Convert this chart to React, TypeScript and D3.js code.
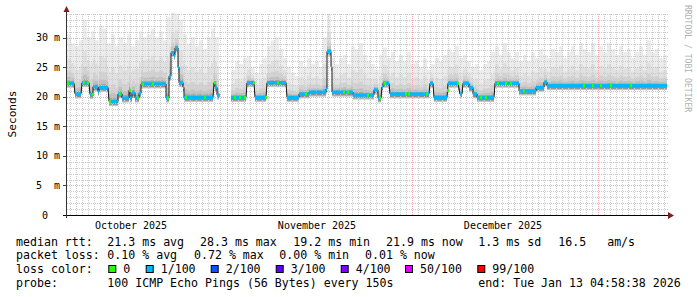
import React from 'react';
import * as d3 from 'd3';

// ---- data (600 columns of 4 h each) ----
// median rtt plateaus: [firstCol, lastCol, ms]
const medianSegments: [number, number, number][] = [
  [0, 6, 22.3], [8, 13, 20.5], [15, 21, 22.4], [23, 25, 20.4], [26, 30, 21.7],
  [31, 31, 20.9], [32, 40, 21.6], [42, 50, 19.2], [51, 54, 20.5], [55, 61, 19.8],
  [62, 62, 21.1], [63, 64, 19.8], [65, 67, 20.7], [68, 71, 19.8], [72, 73, 20.6],
  [74, 98, 22.2], [99, 101, 19.8], [102, 103, 23.5], [104, 106, 27.5], [107, 107, 27.0],
  [108, 110, 28.3], [111, 111, 25.0], [112, 115, 22.4], [116, 116, 21.6], [117, 145, 19.9],
  [147, 147, 22.4], [148, 149, 21.6], [150, 152, 20.3],
  [164, 178, 19.9], [180, 186, 22.4], [188, 198, 19.9], [200, 218, 22.4], [220, 231, 19.9],
  [232, 241, 20.5], [242, 258, 20.8], [259, 259, 21.3], [260, 263, 27.7], [264, 264, 25.1],
  [265, 285, 20.8], [286, 306, 20.3], [307, 310, 21.2], [311, 313, 19.8], [315, 315, 21.7],
  [316, 321, 22.3], [323, 361, 20.5], [363, 365, 22.3], [367, 379, 19.9], [381, 390, 22.3],
  [393, 394, 20.5], [396, 401, 22.3], [402, 405, 21.6], [406, 409, 20.5], [410, 426, 19.9],
  [428, 451, 22.3], [452, 468, 21.0], [469, 476, 21.6], [477, 479, 22.5], [480, 599, 21.9],
];

// columns where loss was 0 (green), elsewhere 1/100
const zeroLossCols = [0, 16, 20, 25, 42, 52, 62, 70, 75, 85, 100, 118, 137, 147, 167, 172, 177,
  186, 198, 210, 238, 276, 280, 300, 312, 317, 338, 341, 359, 380, 390, 413, 418, 430, 438, 443,
  456, 516, 525, 533, 543, 563];

// smoke upper envelope (ms), one value per 4 columns
const smokeMax: (number | null)[] = [
  30.5, 29.0, 28.5, 29.5, 33.0, 30.0, 31.0, 29.5, 32.0, 31.5,
  29.0, 30.5, 28.5, 30.0, 29.0, 30.5, 28.5, 29.5, 31.0, 30.0,
  30.5, 31.5, 30.0, 31.0, 29.5, 33.5, 34.2, 34.0, 33.0, 30.5,
  29.0, 30.0, 28.5, 29.5, 28.0, 30.0, 31.5, 30.0, null, null,
  null, 24.5, 26.0, 25.5, 26.5, 26.8, 25.0, 24.0, 25.5, 26.5,
  28.5, 29.5, 30.0, 28.0, 26.5, 25.0, 24.0, 23.5, 26.0, 25.0,
  26.5, 25.5, 26.0, 25.0, 30.0, 34.0, 26.5, 25.5, 26.5, 27.0,
  25.5, 28.5, 28.0, 29.0, 27.0, 26.0, 25.5, 24.5, 27.0, 28.3,
  26.5, 27.5, 26.0, 27.0, 26.0, 27.5, 25.5, 26.0, 25.0, 26.5,
  24.5, 25.5, 26.5, 26.0, 27.0, 28.0, 27.5, 28.5, 26.5, 27.0,
  26.0, 25.0, 25.5, 24.5, 25.5, 26.0, 27.5, 28.5, 27.0, 29.0,
  27.5, 26.5, 27.5, 26.0, 27.0, 26.0, 27.5, 26.5, 28.0, 27.0,
  26.5, 28.0, 27.5, 28.5, 26.5, 27.5, 28.5, 27.0, 29.0, 28.0,
  27.5, 29.0, 27.0, 28.5, 27.5, 29.0, 28.0, 27.0, 28.5, 27.5,
  28.0, 26.5, 27.5, 28.5, 27.0, 29.5, 27.5, 28.0, 26.5, 27.0,
];

const yTicks = [0, 5, 10, 15, 20, 25, 30];
const yTickLabels = [' 0', '5  m', '10 m', '15 m', '20 m', '25 m', '30 m'];
const monthGridCols = [159.7, 345.3, 531.3];
const monthLabelCols = [64, 250, 436];
const monthLabels = ['October 2025', 'November 2025', 'December 2025'];

const rttLabel = 'median rtt:';
const rttItems = ['21.3 ms avg', '28.3 ms max', '19.2 ms min', '21.9 ms now', '1.3 ms sd', '16.5   am/s'];
const lossLabel = 'packet loss:';
const lossItems = ['0.10 % avg', '0.72 % max', '0.00 % min', '0.01 % now'];
const colorLabel = 'loss color:';
const lossColorNames = ['0', '1/100', '2/100', '3/100', '4/100', '50/100', '99/100'];
const lossColors = ['#26ff00', '#00b8ff', '#0059ff', '#5e00ff', '#7e00ff', '#dd00ff', '#ff0000'];
const probeLabel = 'probe:';
const probeText = '100 ICMP Echo Pings (56 Bytes) every 150s';
const endText = 'end: Tue Jan 13 04:58:38 2026';

// ---- layout ----
const rttX = [107.3, 200, 293.3, 386, 478.3, 558.3];
const lossX = [107.3, 194, 279.3, 365];
const boxX = [108.3, 145.7, 210.7, 275.7, 340.7, 405, 477.3];
const rowY = [245.5, 259.2, 272.9, 286.6];
const MONO = '"DejaVu Sans Mono", monospace';

function medianAt(c: number): number {
  for (let i = 0; i < medianSegments.length; i++) {
    const [a, b, v] = medianSegments[i];
    if (c >= a && c <= b) return v;
    const next = medianSegments[i + 1];
    if (next && c > b && c < next[0]) {
      if (next[0] - b > 4) return NaN;
      const t = (c - b) / (next[0] - b);
      return v + (next[2] - v) * t;
    }
  }
  return NaN;
}

export default function App() {
  const x = d3.scaleLinear().domain([0, 600]).range([67, 667]);
  const y = d3.scaleLinear().domain([0, 34.2]).range([215, 13]);

  // smoke
  const smoke: JSX.Element[] = [];
  const layers: [number, string][] = [
    [1.0, '#ececec'], [0.5, '#e0e0e0'], [0.25, '#d2d2d2'], [0.12, '#bfbfbf'], [0.05, '#a6a6a6'],
  ];
  for (let c = 0; c < 600; c++) {
    const m = medianAt(c);
    const mx = smokeMax[Math.floor(c / 4)];
    if (isNaN(m) || mx == null) continue;
    const ym = y(m);
    const d = ym - y(mx);
    const x0 = x(c);
    const w = x(c + 1) - x0;
    layers.forEach(([f, col], k) => {
      const h = Math.max(d * f, k === layers.length - 1 ? 1.5 : 0) + 0.5;
      smoke.push(<rect key={`s${c}-${k}`} x={x0} y={ym - h} width={w} height={h} fill={col} />);
    });
    smoke.push(<rect key={`l${c}a`} x={x0} y={ym} width={w} height={4.5} fill="#c4c4c4" />);
    smoke.push(<rect key={`l${c}b`} x={x0} y={ym} width={w} height={3.2} fill="#8f8f8f" />);
  }

  // grid
  const minorH = d3.range(1, 35).filter((v) => v % 5 !== 0 && v <= 34.2);
  const minorV = d3.range(3.3, 600, 6).filter((c) => monthGridCols.every((m) => Math.abs(m - c) > 2));

  // median line
  const pts: ([number, number] | null)[] = [];
  medianSegments.forEach(([a, b, v], i) => {
    pts.push([x(a), y(v)], [x(b + 1), y(v)]);
    const next = medianSegments[i + 1];
    if (next && next[0] - b > 4) pts.push(null);
  });
  const line = d3.line<[number, number] | null>()
    .defined((d) => d != null)
    .x((d) => (d as [number, number])[0])
    .y((d) => (d as [number, number])[1]);

  const majorColor = '#eea8a8';

  return (
    <svg width={697} height={297} style={{ display: 'block', position: 'absolute', left: 0, top: 0, background: '#fff' }}>
      <rect x={0} y={0} width={697} height={297} fill="#fff" />
      <g>{smoke}</g>
      {/* grid */}
      <g shapeRendering="crispEdges">
        {minorH.map((v) => (
          <line key={`mh${v}`} x1={x(0)} x2={x(600) + 1} y1={Math.round(y(v)) + 0.5} y2={Math.round(y(v)) + 0.5}
            stroke="#cbcbcb" strokeDasharray="1,1" />
        ))}
        {minorV.map((c) => (
          <line key={`mv${c}`} x1={Math.round(x(c)) + 0.5} x2={Math.round(x(c)) + 0.5} y1={y(0)} y2={y(34.2)}
            stroke="#cbcbcb" strokeDasharray="1,1" />
        ))}
        {yTicks.slice(1).map((v) => (
          <line key={`Mh${v}`} x1={x(0)} x2={x(600) + 1} y1={Math.round(y(v)) + 0.5} y2={Math.round(y(v)) + 0.5}
            stroke={majorColor} strokeDasharray="1,1" />
        ))}
        {monthGridCols.map((c) => (
          <line key={`Mv${c}`} x1={Math.round(x(c)) + 0.5} x2={Math.round(x(c)) + 0.5} y1={y(0)} y2={y(34.2)}
            stroke={majorColor} strokeDasharray="1,1" />
        ))}
        {yTicks.map((v) => (
          <line key={`t${v}`} x1={63} x2={67} y1={Math.round(y(v)) + 0.5} y2={Math.round(y(v)) + 0.5} stroke="#444" />
        ))}
      </g>
      {/* median */}
      <path d={line(pts) || ''} fill="none" stroke="#1a1a1a" strokeWidth={1} />
      {medianSegments.map(([a, b, v]) => (
        <rect key={`b${a}`} x={x(a)} y={y(v) - 1.6} width={x(b + 1) - x(a)} height={3.2} fill={lossColors[1]} />
      ))}
      {zeroLossCols.map((c) => {
        const m = medianAt(c);
        if (isNaN(m)) return null;
        return <rect key={`g${c}`} x={x(c)} y={y(m) - 1.6} width={x(c + 2) - x(c)} height={3.2} fill={lossColors[0]} />;
      })}
      {/* axes */}
      <line x1={63} x2={670} y1={215.5} y2={215.5} stroke="#000" strokeWidth={1} />
      <line x1={66.5} x2={66.5} y1={218} y2={10} stroke="#333" strokeWidth={1} />
      <path d="M668,212 L674,215.5 L668,219 Z" fill="#801e1e" />
      <path d="M63.5,12 L66.5,6 L69.5,12 Z" fill="#801e1e" />
      {/* y labels */}
      {yTicks.map((v, i) => (
        <text key={`yl${v}`} x={36} y={y(v) + 3.5} fontFamily={MONO} fontSize={10} fill="#000"
          xmlSpace="preserve">{yTickLabels[i]}</text>
      ))}
      <text transform="translate(15.5,114) rotate(-90)" textAnchor="middle" fontFamily={MONO} fontSize={11.2} fill="#000">Seconds</text>
      <text transform="translate(685,5) rotate(90)" fontFamily={MONO} fontSize={8.1} fill="#b0b0b0">RRDTOOL / TOBI OETIKER</text>
      {/* x labels */}
      {monthLabels.map((l, i) => (
        <text key={l} x={x(monthLabelCols[i])} y={228.5} textAnchor="middle" fontFamily={MONO} fontSize={10} fill="#000">{l}</text>
      ))}
      {/* legend */}
      <g fontFamily={MONO} fontSize={11.6} fill="#000">
        <text x={16} y={rowY[0]} xmlSpace="preserve">{rttLabel}</text>
        {rttItems.map((t, i) => <text key={t} x={rttX[i]} y={rowY[0]} xmlSpace="preserve">{t}</text>)}
        <text x={16} y={rowY[1]} xmlSpace="preserve">{lossLabel}</text>
        {lossItems.map((t, i) => <text key={t} x={lossX[i]} y={rowY[1]} xmlSpace="preserve">{t}</text>)}
        <text x={16} y={rowY[2]} xmlSpace="preserve">{colorLabel}</text>
        {lossColorNames.map((t, i) => (
          <g key={t}>
            <rect x={boxX[i] + 0.5} y={265.5} width={7} height={7} fill={lossColors[i]} stroke="#000" strokeWidth={1} />
            <text x={boxX[i] + 15} y={rowY[2]} xmlSpace="preserve">{t}</text>
          </g>
        ))}
        <text x={16} y={rowY[3]} xmlSpace="preserve">{probeLabel}</text>
        <text x={107.3} y={rowY[3]} xmlSpace="preserve">{probeText}</text>
        <text x={478.3} y={rowY[3]} xmlSpace="preserve">{endText}</text>
      </g>
    </svg>
  );
}
